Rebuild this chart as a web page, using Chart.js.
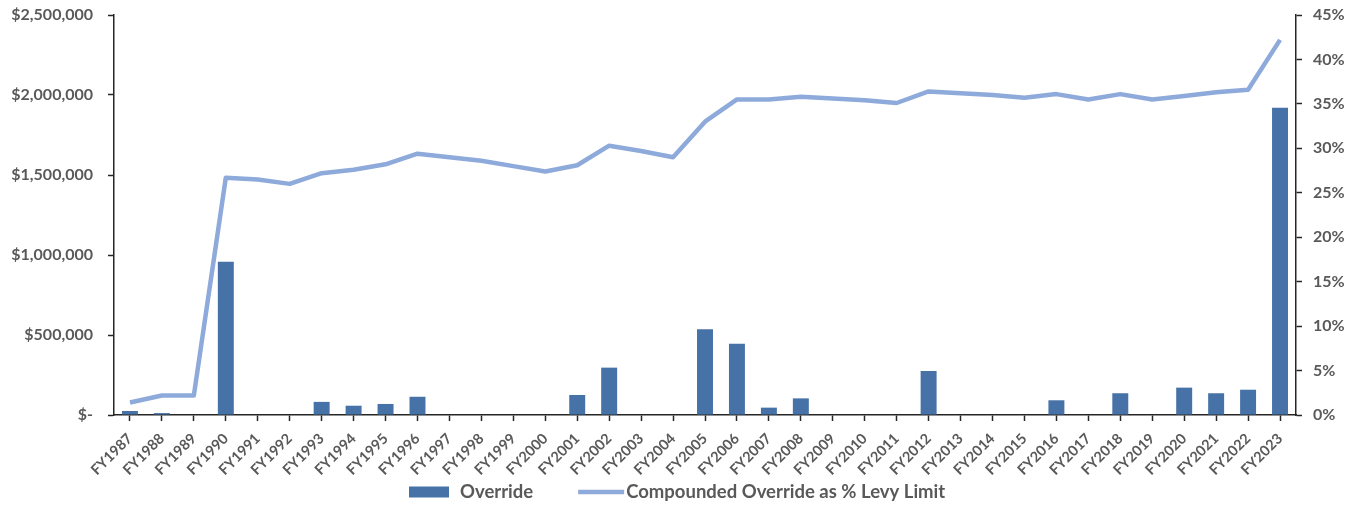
<!DOCTYPE html>
<html>
<head>
<meta charset="utf-8">
<script src="https://cdn.jsdelivr.net/npm/chart.js@4"></script>
<style>
  html, body { margin: 0; padding: 0; background: #ffffff; }
  #wrap { width: 1364px; height: 506px; position: relative; }
</style>
</head>
<body>
<div id="wrap"><canvas id="chart"></canvas></div>
<script>
// Fiscal years on the category axis
const fiscalYears = [
  'FY1987','FY1988','FY1989','FY1990','FY1991','FY1992','FY1993','FY1994','FY1995','FY1996',
  'FY1997','FY1998','FY1999','FY2000','FY2001','FY2002','FY2003','FY2004','FY2005','FY2006',
  'FY2007','FY2008','FY2009','FY2010','FY2011','FY2012','FY2013','FY2014','FY2015','FY2016',
  'FY2017','FY2018','FY2019','FY2020','FY2021','FY2022','FY2023'
];

// Override amount approved each year (dollars)
const overrideAmounts = [
  25000, 12000, 0, 958000, 0, 0, 82000, 58000, 69000, 114000,
  0, 0, 0, 0, 125000, 296000, 0, 0, 536000, 446000,
  46000, 104000, 0, 0, 0, 275000, 0, 0, 0, 92000,
  0, 136000, 0, 171000, 136000, 158000, 1920000
];

// Compounded override as a percentage of the levy limit
const compoundedPct = [
  1.4, 2.2, 2.2, 26.7, 26.5, 26.0, 27.2, 27.6, 28.2, 29.4,
  29.0, 28.6, 28.0, 27.4, 28.1, 30.3, 29.7, 29.0, 33.0, 35.5,
  35.5, 35.8, 35.6, 35.4, 35.1, 36.4, 36.2, 36.0, 35.7, 36.1,
  35.5, 36.1, 35.5, 35.9, 36.3, 36.6, 42.2
];

// Axis tick labels
const dollarTickLabels = ['$-', '$500,000', '$1,000,000', '$1,500,000', '$2,000,000', '$2,500,000'];
const pctTickLabels = ['0%', '5%', '10%', '15%', '20%', '25%', '30%', '35%', '40%', '45%'];

// Legend entries
const legendNames = ['Override', 'Compounded Override as % Levy Limit'];

const BAR_COLOR = '#4672a8';
const LINE_COLOR = '#8eaadb';
const TEXT_COLOR = '#595959';
const AXIS_COLOR = '#262626';
const FONT = 'Lato, "Open Sans", sans-serif';

// Legend drawn beneath the axis: a bar swatch and a line swatch
const bottomLegend = {
  id: 'bottomLegend',
  afterDraw(chart) {
    const ctx = chart.ctx;
    ctx.save();
    ctx.font = 'bold 18.5px ' + FONT;
    ctx.textBaseline = 'middle';
    const boxW = 40, boxH = 11, lineW = 46;
    const w0 = ctx.measureText(legendNames[0]).width;
    const w1 = ctx.measureText(legendNames[1]).width;
    const total = boxW + 11 + w0 + 45 + lineW + 2 + w1;
    let x = Math.round((chart.width - total) / 2) - 5;
    const y = 492;
    ctx.fillStyle = BAR_COLOR;
    ctx.fillRect(x, y - boxH / 2, boxW, boxH);
    x += boxW + 11;
    ctx.fillStyle = TEXT_COLOR;
    ctx.fillText(legendNames[0], x, y);
    x += w0 + 45;
    ctx.strokeStyle = LINE_COLOR;
    ctx.lineWidth = 4.5;
    ctx.beginPath();
    ctx.moveTo(x, y);
    ctx.lineTo(x + lineW, y);
    ctx.stroke();
    x += lineW + 2;
    ctx.fillStyle = TEXT_COLOR;
    ctx.fillText(legendNames[1], x, y);
    ctx.restore();
  }
};

// Keep the value axes from reserving extra room above the plot
function fixVerticalAxis(width) {
  return function (scale) {
    scale.width = width;
    scale.paddingTop = 15;
    scale.paddingBottom = 0;
  };
}

new Chart(document.getElementById('chart'), {
  data: {
    labels: fiscalYears,
    datasets: [
      {
        type: 'line',
        label: legendNames[1],
        data: compoundedPct,
        yAxisID: 'yPct',
        borderColor: LINE_COLOR,
        borderWidth: 4.5,
        pointRadius: 0,
        tension: 0,
        borderJoinStyle: 'round',
        order: 0
      },
      {
        type: 'bar',
        label: legendNames[0],
        data: overrideAmounts,
        yAxisID: 'yDollar',
        backgroundColor: BAR_COLOR,
        borderWidth: 0,
        barPercentage: 0.5,
        categoryPercentage: 1.0,
        order: 1
      }
    ]
  },
  options: {
    responsive: true,
    maintainAspectRatio: false,
    animation: false,
    layout: { padding: { top: 0, left: 0, right: 0, bottom: 0 } },
    plugins: {
      legend: { display: false },
      tooltip: { enabled: false }
    },
    scales: {
      x: {
        offset: true,
        grid: {
          offset: false,
          drawOnChartArea: false,
          drawTicks: true,
          tickLength: 6,
          tickColor: AXIS_COLOR,
          tickWidth: 1.5
        },
        border: { display: true, color: AXIS_COLOR, width: 1.5 },
        ticks: {
          autoSkip: false,
          maxRotation: 45,
          minRotation: 45,
          padding: 9,
          color: TEXT_COLOR,
          font: { family: FONT, size: 14.5, weight: 'bold' }
        },
        afterFit(scale) { scale.height = 91; }
      },
      yDollar: {
        position: 'left',
        min: 0,
        max: 2500000,
        grid: {
          drawOnChartArea: false,
          drawTicks: true,
          tickLength: 6,
          tickColor: AXIS_COLOR,
          tickWidth: 1.5
        },
        border: { display: true, color: AXIS_COLOR, width: 1.5 },
        ticks: {
          stepSize: 500000,
          padding: 15,
          color: TEXT_COLOR,
          font: { family: FONT, size: 16, weight: 'bold' },
          callback: (value, index) => dollarTickLabels[index]
        },
        afterFit: fixVerticalAxis(114)
      },
      yPct: {
        position: 'right',
        min: 0,
        max: 45,
        grid: {
          drawOnChartArea: false,
          drawTicks: true,
          tickLength: 6,
          tickColor: AXIS_COLOR,
          tickWidth: 1.5
        },
        border: { display: true, color: AXIS_COLOR, width: 1.5 },
        ticks: {
          stepSize: 5,
          padding: 11,
          color: TEXT_COLOR,
          font: { family: FONT, size: 16, weight: 'bold' },
          callback: (value, index) => pctTickLabels[index]
        },
        afterFit: fixVerticalAxis(68)
      }
    }
  },
  plugins: [bottomLegend]
});
</script>
</body>
</html>
